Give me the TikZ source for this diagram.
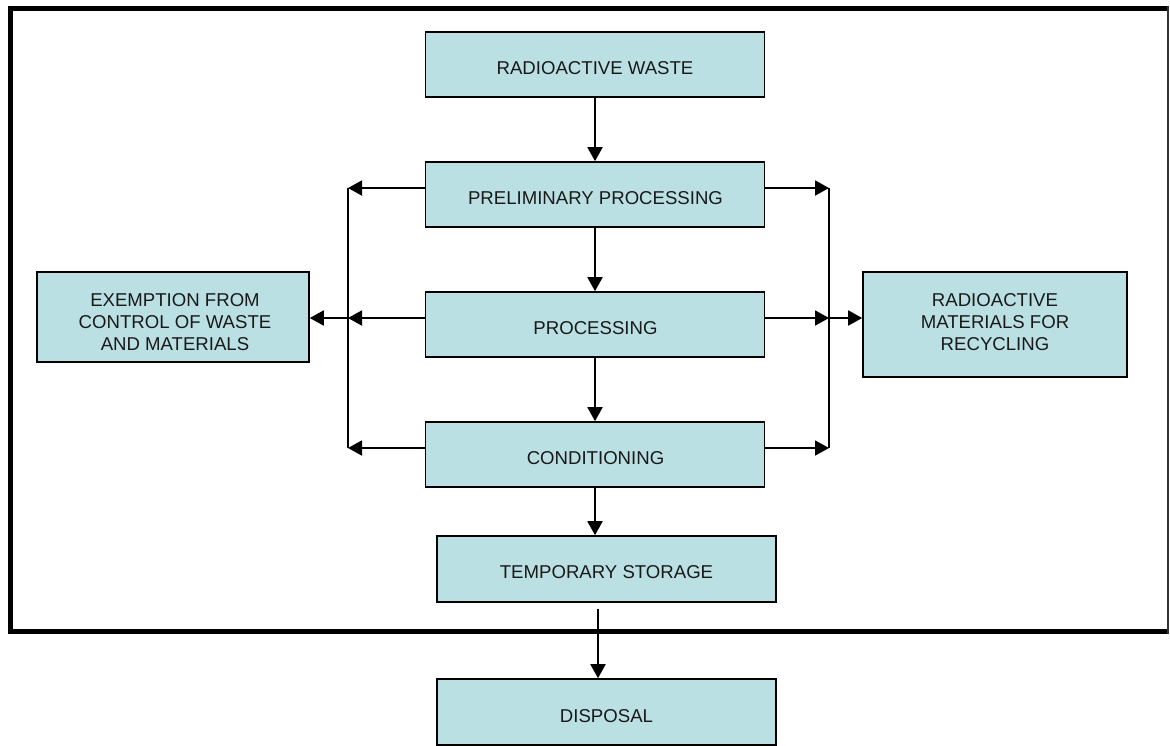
\documentclass[tikz,border=0pt]{standalone}
\usepackage{fontspec}
\setmainfont{Liberation Sans}
\usetikzlibrary{arrows.meta}
\definecolor{boxfill}{RGB}{187,224,227}
\begin{document}
\begin{tikzpicture}[x=1pt,y=-1pt,
  box/.style={draw=black, line width=1.6pt, fill=boxfill, inner sep=0pt},
  lbl/.style={font=\fontsize{18.6}{22}\selectfont, align=center, inner sep=0pt, text=black!90},
  conn/.style={line width=1.9pt},
  arr/.style={line width=1.9pt, -{Triangle[length=14pt,width=15pt]}},
  frameline/.style={line width=5pt},
  frameedge/.style={line width=1.6pt, black!80}]
\useasboundingbox (0,0) rectangle (1170,745);
\draw[frameline] (1169,8.5) -- (10.5,8.5) -- (10.5,631.5) -- (1169,631.5);
\draw[frameedge] (1168.2,6) -- (1168.2,634);

% boxes
\node[box, minimum width=339, minimum height=65] (rw) at (595,64.5) {};
\node[box, minimum width=339, minimum height=65] (pp) at (595,194.5) {};
\node[box, minimum width=339, minimum height=65] (proc) at (595,324.5) {};
\node[box, minimum width=339, minimum height=65] (cond) at (595,454.5) {};
\node[box, minimum width=339, minimum height=66] (temp) at (606.5,569) {};
\node[box, minimum width=339, minimum height=66] (disp) at (606.5,712) {};
\node[box, minimum width=272, minimum height=90] (ex) at (173,317) {};
\node[box, minimum width=264, minimum height=105] (rec) at (995,324.5) {};

% labels
\node[lbl] (rwt) at (595,68.3) {RADIOACTIVE WASTE};
\node[lbl] (ppt) at (595.5,198.5) {PRELIMINARY PROCESSING};
\node[lbl] (proct) at (595.5,328.5) {PROCESSING};
\node[lbl] (condt) at (595.5,458.5) {CONDITIONING};
\node[lbl] (tempt) at (606.5,572) {TEMPORARY STORAGE};
\node[lbl] (dispt) at (606.5,716) {DISPOSAL};
\node[lbl] (ext) at (175,322.5) {EXEMPTION FROM\\CONTROL OF WASTE\\AND MATERIALS};
\node[lbl] (rect) at (995,321.7) {RADIOACTIVE\\MATERIALS FOR\\RECYCLING};

% junction coordinates
\coordinate (L1) at (348,188);
\coordinate (L2) at (348,318);
\coordinate (L3) at (348,448);
\coordinate (R1) at (829,188);
\coordinate (R2) at (829,318);
\coordinate (R3) at (829,448);

% vertical flow
\draw[arr] (rw.south) -- (pp.north);
\draw[arr] (pp.south) -- (proc.north);
\draw[arr] (proc.south) -- (cond.north);
\draw[arr] (cond.south) -- (cond.south |- temp.north);
\draw[arr] ([xshift=-8.5pt,yshift=-6pt]temp.south) -- ([xshift=-8.5pt]disp.north);

% side branches
\draw[conn] (L1) -- (L3);
\draw[conn] (R1) -- (R3);
\draw[arr] (pp.west |- L1) -- (L1);
\draw[arr] (proc.west |- L2) -- (L2);
\draw[arr] (cond.west |- L3) -- (L3);
\draw[arr] (L2) -- (ex.east |- L2);
\draw[arr] (pp.east |- R1) -- (R1);
\draw[arr] (proc.east |- R2) -- (R2);
\draw[arr] (cond.east |- R3) -- (R3);
\draw[arr] (R2) -- (rec.west |- R2);
\end{tikzpicture}
\end{document}
